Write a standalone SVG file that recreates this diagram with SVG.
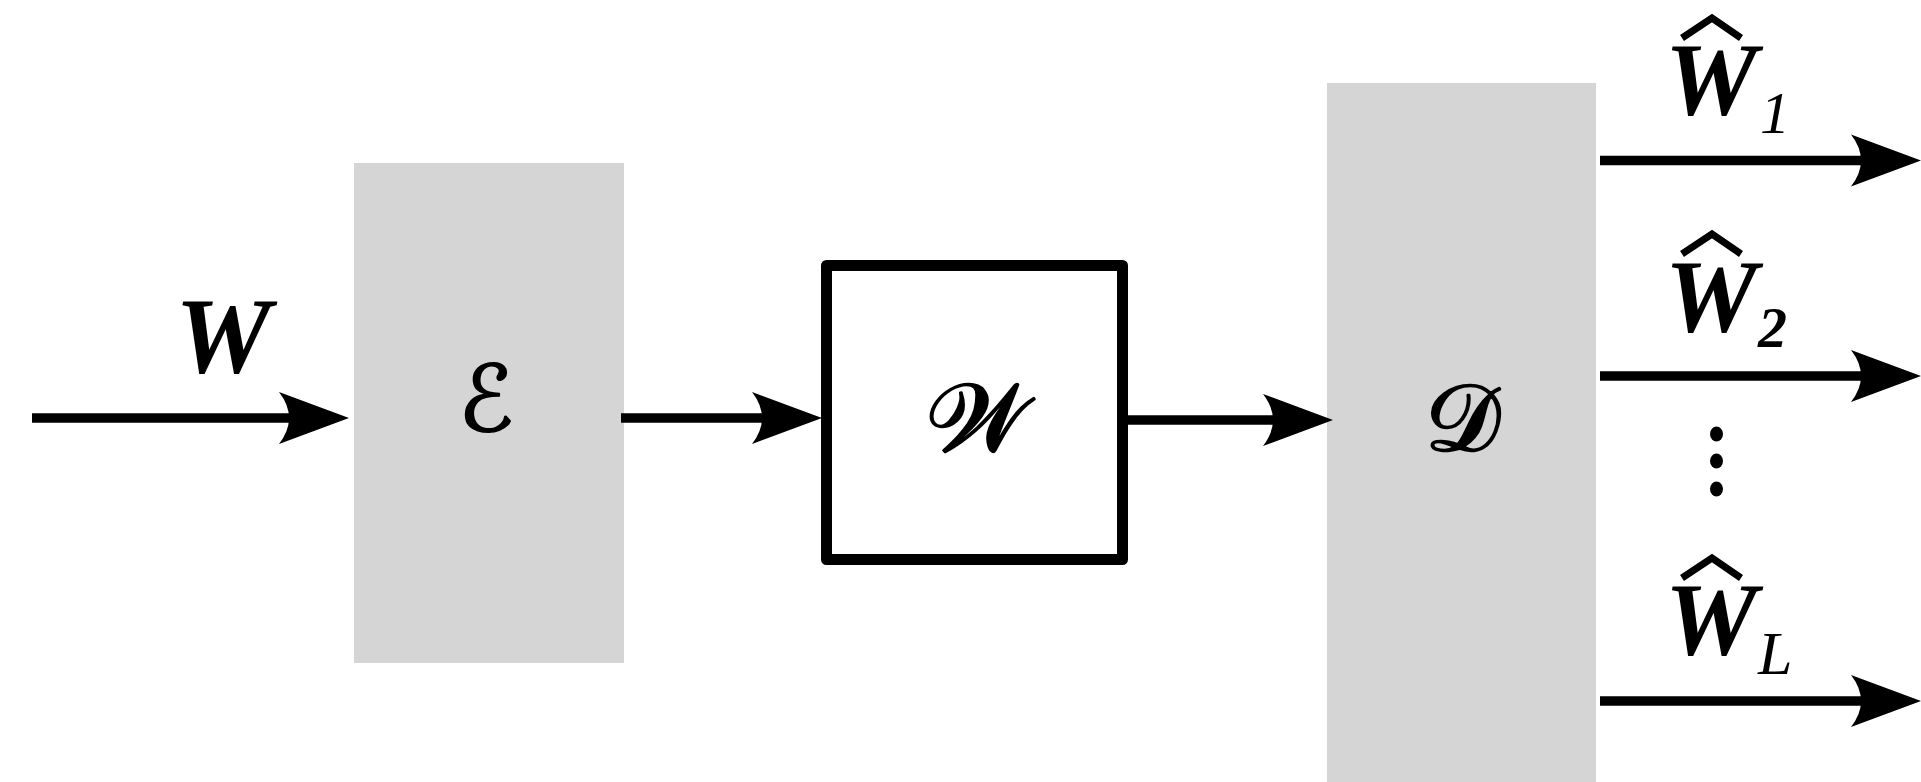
<svg xmlns="http://www.w3.org/2000/svg" width="1921" height="782" viewBox="0 0 1921 782">
<style>
.blk{fill:#d5d5d5;stroke:none}
.wire{stroke:#000;stroke-width:9.5;fill:none;marker-end:url(#ah)}
.lab{font-family:"Liberation Serif","Times New Roman",serif;font-style:italic;font-weight:bold;fill:#000}
.sub{font-family:"Liberation Serif","Times New Roman",serif;font-style:italic;fill:#000}
.scr{font-family:"DejaVu Serif","DejaVu Sans","Noto Sans",serif;fill:#000;stroke:#000;stroke-linejoin:round}
.hat{stroke:#000;stroke-width:7;fill:none}
</style>
<defs>
<marker id="ah" markerUnits="userSpaceOnUse" markerWidth="90" markerHeight="70" refX="0" refY="0" viewBox="-15 -30 90 60" orient="auto" overflow="visible">
<path d="M60,0 L-10,-26 Q10,0 -10,26 Z" fill="#000"/>
</marker>
</defs>
<rect width="1921" height="782" fill="#fff"/>
<g id="encoder">
<rect class="blk" x="354" y="163" width="270" height="500"/>
<text class="scr" x="486" y="431" font-size="92" stroke-width="1.5" text-anchor="middle">ℰ</text>
</g>
<g id="channel">
<rect x="826.5" y="265.5" width="296" height="294" fill="#fff" stroke="#000" stroke-width="11" stroke-linejoin="round"/>
<text class="scr" x="977" y="451" font-size="97" stroke-width="2.5" text-anchor="middle">𝒲</text>
</g>
<g id="decoder">
<rect class="blk" x="1327" y="83" width="269" height="699"/>
<text class="scr" x="1462" y="450" font-size="94" stroke-width="2.5" text-anchor="middle">𝒟</text>
</g>
<g id="connectors">
<path class="wire" d="M32,418 H289"/>
<path class="wire" d="M621,418 H762"/>
<path class="wire" d="M1128,420 H1273"/>
<path class="wire" d="M1600,160.5 H1861"/>
<path class="wire" d="M1600,376 H1861"/>
<path class="wire" d="M1600,701 H1861"/>
</g>
<g id="labels">
<text class="lab" x="223" y="372" font-size="108" text-anchor="middle">W</text>
<g id="what1">
<polyline class="hat" points="1682,38 1712,18 1741,38"/>
<text class="lab" x="1711" y="114" font-size="104" text-anchor="middle">W</text>
<text class="sub" x="1760" y="133" font-size="60">1</text>
</g>
<g id="what2">
<polyline class="hat" points="1682,254 1712,234 1741,254"/>
<text class="lab" x="1711" y="331" font-size="104" text-anchor="middle">W</text>
<text class="sub" x="1758" y="347" font-size="58" font-weight="bold">2</text>
</g>
<g id="whatL">
<polyline class="hat" points="1682,578 1712,558 1741,578"/>
<text class="lab" x="1711" y="654" font-size="104" text-anchor="middle">W</text>
<text class="sub" x="1758" y="674" font-size="62">L</text>
</g>
<g id="vdots">
<ellipse cx="1716.5" cy="434" rx="6.5" ry="7.5"/>
<ellipse cx="1716.5" cy="461" rx="6.5" ry="7.5"/>
<ellipse cx="1716.5" cy="489" rx="6.5" ry="7.5"/>
</g>
</g>
</svg>
